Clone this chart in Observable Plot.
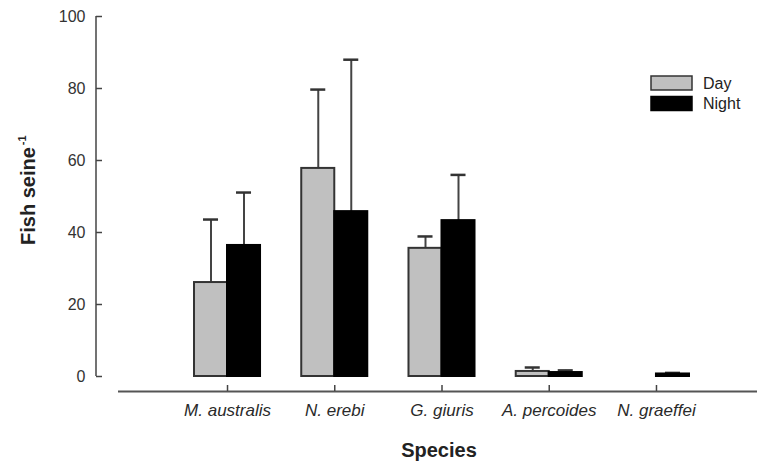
<!DOCTYPE html>
<html>
<head>
<meta charset="utf-8">
<script src="https://cdn.jsdelivr.net/npm/d3@7"></script>
<script src="https://cdn.jsdelivr.net/npm/@observablehq/plot@0.6"></script>
<style>
  html, body { margin: 0; padding: 0; background: #fff; }
  svg { display: block; }
</style>
</head>
<body>
<div id="chart"></div>
<script>
const species = ["M. australis", "N. erebi", "G. giuris", "A. percoides", "N. graeffei"];
const dayMean = [26.1, 57.8, 35.6, 1.4, 0];
const daySE = [17.5, 21.9, 3.3, 1.1, 0];
const nightMean = [36.4, 45.8, 43.3, 1.1, 0.7];
const nightSE = [14.7, 42.2, 12.7, 0.6, 0.3];
const yTicks = [0, 20, 40, 60, 80, 100];
const seriesNames = ["Day", "Night"];
const yLabel = "Fish seine";
const yLabelSup = "-1";
const xLabel = "Species";

const font = "'Liberation Sans', Arial, Helvetica, sans-serif";

function rows(means, ses) {
  return species.map((s, i) => ({species: s, mean: means[i], upper: means[i] + ses[i]}))
    .filter(d => d.mean > 0);
}
const day = rows(dayMean, daySE);
const night = rows(nightMean, nightSE);

const half = 16.5;

const yAxisLine = (index, scales, values, dimensions) => {
  const ns = "http://www.w3.org/2000/svg";
  const g = document.createElementNS(ns, "g");
  const l = document.createElementNS(ns, "line");
  l.setAttribute("x1", dimensions.marginLeft);
  l.setAttribute("x2", dimensions.marginLeft);
  l.setAttribute("y1", scales.y(yTicks[0]));
  l.setAttribute("y2", scales.y(yTicks[yTicks.length - 1]));
  l.setAttribute("stroke", "#444");
  l.setAttribute("stroke-width", 1.5);
  g.appendChild(l);
  return g;
};

const svg = Plot.plot({
  width: 757,
  height: 464,
  marginLeft: 96,
  marginRight: 0,
  marginTop: 16,
  marginBottom: 88,
  style: {fontFamily: font, background: "#fff", color: "#333"},
  x: {type: "band", domain: species, range: [173.4, 709.6], paddingInner: 0.692, paddingOuter: 0.346, align: 0.5, round: false},
  y: {domain: [0, 100]},
  marks: [
    Plot.axisY({ticks: yTicks, tickSize: -6, tickFormat: () => "", stroke: "#444", strokeWidth: 1.5, label: null}),
    Plot.axisY({ticks: yTicks, tickSize: 0, tickPadding: 11, fontSize: 16, fill: "#333", label: null}),
    yAxisLine,
    Plot.ruleY([0], {dy: 15, insetLeft: 22, stroke: "#555", strokeWidth: 2}),
    Plot.axisX({tickSize: -6, tickFormat: () => "", dy: 15, stroke: "#444", strokeWidth: 1.5, label: null}),
    Plot.axisX({tickSize: 0, tickPadding: 27, fontSize: 17, fontStyle: "italic", fill: "#2a2a2a", label: null}),
    // error bars (upper only)
    Plot.ruleX(day, {x: "species", y1: "mean", y2: "upper", dx: -half, stroke: "#444", strokeWidth: 2}),
    Plot.tickY(day, {x: "species", y: "upper", dx: -half, insetLeft: 9, insetRight: 9, stroke: "#333", strokeWidth: 2.5}),
    Plot.ruleX(night, {x: "species", y1: "mean", y2: "upper", dx: half, stroke: "#444", strokeWidth: 2}),
    Plot.tickY(night, {x: "species", y: "upper", dx: half, insetLeft: 9, insetRight: 9, stroke: "#333", strokeWidth: 2.5}),
    // bars
    Plot.barY(day, {x: "species", y: "mean", dx: -half, fill: "#c0c0c0", stroke: "#333", strokeWidth: 2}),
    Plot.barY(night, {x: "species", y: "mean", dx: half, fill: "#000", stroke: "#000", strokeWidth: 2})
  ]
});

const s = d3.select(svg);
// y axis label
const yl = s.append("text")
  .attr("transform", "translate(35,245) rotate(-90)")
  .attr("text-anchor", "start")
  .attr("font-family", font)
  .attr("font-size", 20)
  .attr("font-weight", "bold")
  .attr("fill", "#222")
  .text(yLabel);
yl.append("tspan").attr("dx", 2).attr("dy", -9).attr("font-size", 11).text(yLabelSup);

// x axis label
s.append("text")
  .attr("x", 439).attr("y", 457)
  .attr("text-anchor", "middle")
  .attr("font-family", font)
  .attr("font-size", 20)
  .attr("font-weight", "bold")
  .attr("fill", "#222")
  .text(xLabel);

// legend
const legendFill = ["#c0c0c0", "#000"];
const legendStroke = ["#333", "#000"];
const lg = s.append("g").attr("font-family", font).attr("font-size", 16).attr("fill", "#222").attr("text-anchor", "start");
seriesNames.forEach((name, i) => {
  lg.append("rect").attr("x", 651).attr("y", 76 + i * 20.5).attr("width", 41).attr("height", 14)
    .attr("fill", legendFill[i]).attr("stroke", legendStroke[i]).attr("stroke-width", 1.5);
  lg.append("text").attr("x", 703).attr("y", 83 + i * 20.5).attr("dy", "0.35em").attr("text-anchor", "start").text(name);
});

document.getElementById("chart").appendChild(svg);
</script>
</body>
</html>
